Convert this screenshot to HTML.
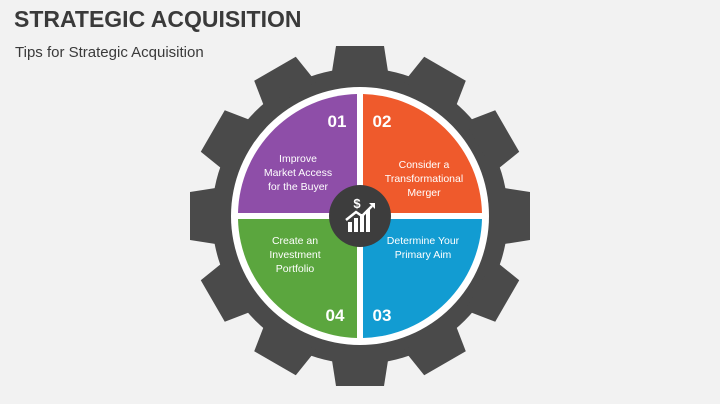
<!DOCTYPE html>
<html><head><meta charset="utf-8"><style>
html,body{margin:0;padding:0;background:#f2f2f2;}
body{width:720px;height:404px;overflow:hidden;position:relative;font-family:"Liberation Sans",sans-serif;}
h1{position:absolute;left:14px;top:6px;margin:0;font-size:23px;font-weight:bold;color:#3a3a3a;letter-spacing:0px;}
.sub{position:absolute;left:15px;top:44px;font-size:15px;color:#3a3a3a;}
</style></head><body>
<h1>STRATEGIC ACQUISITION</h1>
<div class="sub">Tips for Strategic Acquisition</div>
<svg width="720" height="404" style="position:absolute;left:0;top:0">
<g transform="translate(360,216)">
<g fill="#4a4a4a">
<circle r="148"/>
<g id="t"><polygon points="-29,-138 29,-138 24,-170 -24,-170"/></g>
<use href="#t" transform="rotate(30)"/><use href="#t" transform="rotate(60)"/><use href="#t" transform="rotate(90)"/>
<use href="#t" transform="rotate(120)"/><use href="#t" transform="rotate(150)"/><use href="#t" transform="rotate(180)"/>
<use href="#t" transform="rotate(210)"/><use href="#t" transform="rotate(240)"/><use href="#t" transform="rotate(270)"/>
<use href="#t" transform="rotate(300)"/><use href="#t" transform="rotate(330)"/>
</g>
<circle r="129" fill="#fff"/>
<path d="M-3,-3 L-3,-122 A122,122 0 0 0 -122,-3 Z" fill="#8e4ea8"/>
<path d="M3,-3 L3,-122 A122,122 0 0 1 122,-3 Z" fill="#ef5a2c"/>
<path d="M3,3 L3,122 A122,122 0 0 0 122,3 Z" fill="#129cd2"/>
<path d="M-3,3 L-3,122 A122,122 0 0 1 -122,3 Z" fill="#5ba63e"/>
<circle r="31" fill="#3d3d3d"/>
<g fill="#fff">
<rect x="-12" y="6" width="4" height="10"/><rect x="-6" y="2" width="4" height="14"/><rect x="0" y="-2" width="4" height="18"/><rect x="6" y="-6" width="4" height="22"/>
</g>
<polyline points="-14,4 -4,-4 2,0 12,-10" fill="none" stroke="#fff" stroke-width="2.5"/>
<polygon points="9,-13 15,-13 15,-7" fill="#fff"/>
<text x="-3" y="-8" fill="#fff" font-size="13" font-weight="bold" text-anchor="middle">$</text>
</g>
<g font-family="Liberation Sans, sans-serif" fill="#fff" text-anchor="middle">
<text x="337" y="127" font-size="17" font-weight="bold">01</text>
<text x="382" y="127" font-size="17" font-weight="bold">02</text>
<text x="382" y="321" font-size="17" font-weight="bold">03</text>
<text x="335" y="321" font-size="17" font-weight="bold">04</text>
<g font-size="10.5">
<text x="298" y="162">Improve</text><text x="298" y="176">Market Access</text><text x="298" y="190">for the Buyer</text>
<text x="424" y="168">Consider a</text><text x="424" y="182">Transformational</text><text x="424" y="196">Merger</text>
<text x="423" y="244">Determine Your</text><text x="423" y="258">Primary Aim</text>
<text x="295" y="244">Create an</text><text x="295" y="258">Investment</text><text x="295" y="272">Portfolio</text>
</g></g>
</svg>
</body></html>
